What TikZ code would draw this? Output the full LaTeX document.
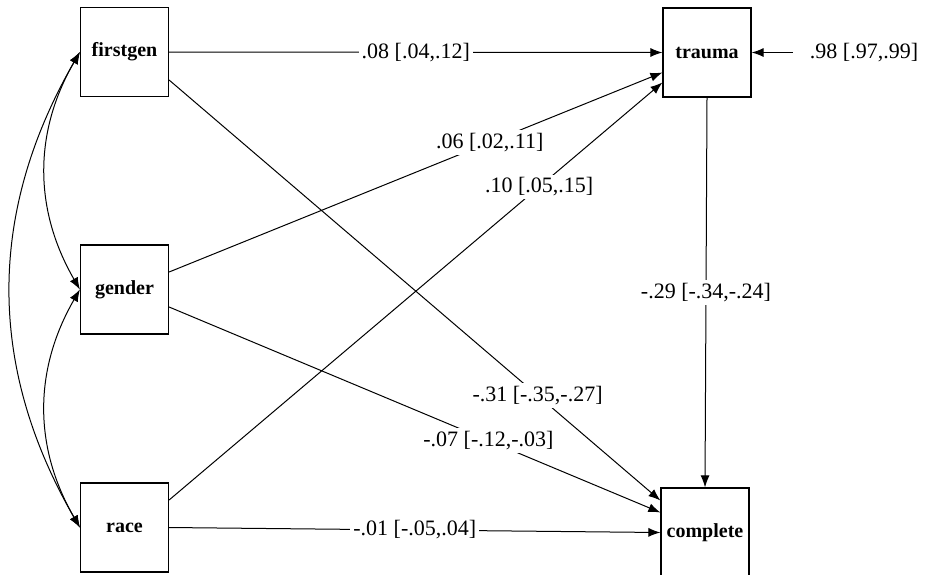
\documentclass[tikz,border=0pt]{standalone}
\usepackage{fontspec}
\setmainfont{Liberation Serif}
\usetikzlibrary{arrows.meta,calc}

\begin{document}
\begin{tikzpicture}[x=0.5pt,y=-0.5pt,
    var/.style={draw,line width=0.6pt,minimum width=44pt,minimum height=44.5pt,inner sep=0pt,font=\bfseries\fontsize{10}{12}\selectfont},
    coef/.style={fill=white,inner sep=1.5pt,font=\fontsize{11}{13}\selectfont},
    reg/.style={-{Latex[length=6pt,width=4.5pt]},line width=0.5pt},
    cov/.style={{Latex[length=6pt,width=4.5pt]}-{Latex[length=6pt,width=4.5pt]},line width=0.5pt}
  ]
    \useasboundingbox (0,0) rectangle (925,574);
    \node[var] (firstgen) at (124.5,52) {firstgen};
    \node[var] (gender) at (124.5,289.5) {gender};
    \node[var] (race) at (124.5,527.5) {race};
    \node[var] (trauma) at (707,52.5) {trauma};
    \node[var] (complete) at (705,532.5) {complete};
    \node[font=\fontsize{11}{13}\selectfont,inner xsep=8.5pt,inner ysep=1pt] (err) at (864,52.5) {.98 [.97,.99]};
    \draw[reg] (err.west) -- (trauma.east);
    \draw[reg] (firstgen.east) -- node[coef] {.08 [.04,.12]} (trauma.west);
    \draw[reg] ($(firstgen.east)+(0,28)$) -- node[coef,pos=0.75] {-.31 [-.35,-.27]} ($(complete.west)+(0,-32)$);
    \draw[reg] ($(gender.east)+(0,-17.5)$) -- node[coef,pos=0.65] {.06 [.02,.11]} ($(trauma.west)+(0,20)$);
    \draw[reg] ($(gender.east)+(0,17.5)$) -- node[coef,pos=0.65] {-.07 [-.12,-.03]} ($(complete.west)+(0,-20)$);
    \draw[reg] ($(race.east)+(0,-27.5)$) -- node[coef,pos=0.75] {.10 [.05,.15]} ($(trauma.west)+(0,30)$);
    \draw[reg] (race.east) -- node[coef] {-.01 [-.05,.04]} (complete.west);
    \draw[reg] (trauma.south) -- node[coef] {-.29 [-.34,-.24]} (complete.north);
    \draw[cov] (firstgen.west) to[bend right=30] (gender.west);
    \draw[cov] (gender.west) to[bend right=30] (race.west);
    \draw[cov] (firstgen.west) to[bend right=30] (race.west);
  \end{tikzpicture}
\end{document}
